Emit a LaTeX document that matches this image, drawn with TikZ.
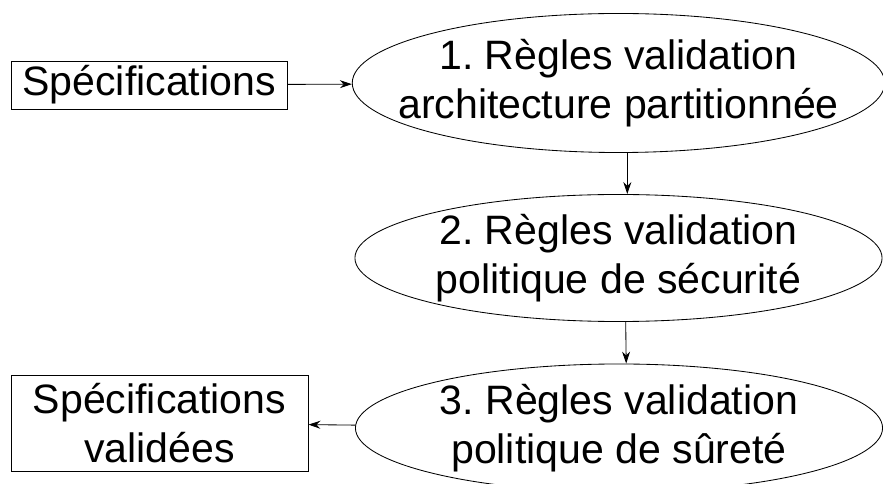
\documentclass[tikz,border=0pt]{standalone}
\usepackage{fontspec}
\setmainfont{Liberation Sans}
\frenchspacing
\usetikzlibrary{arrows.meta, positioning, shapes.geometric}

\begin{document}
\begin{tikzpicture}[x=0.025cm, y=-0.025cm,
   line width=0.6pt, -{Stealth[length=3mm, width=2mm, inset=1mm]},
   every node/.style = {font=\fontsize{29.2pt}{35pt}\selectfont, align=center, inner sep=0pt},
   doc/.style = {draw, rectangle},
   rule/.style = {draw, ellipse, inner sep=-0.8cm, minimum width=13.175cm}]
   \useasboundingbox (0,0) rectangle (883,484);

   \node[doc, minimum width=6.9cm, minimum height=1.2cm]   (spec)  at (149,85)  {Spécifications};
   \node[rule, minimum height=3.475cm] (r1) at (618.5,83)  {1. Règles validation\\architecture partitionnée};
   \node[rule, minimum height=3.175cm] (r2) at (618.5,258) {2. Règles validation\\politique de sécurité};
   \node[rule, minimum height=3.2cm]   (r3) at (619,428)   {3. Règles validation\\politique de sûreté};
   \node[doc, minimum width=7.425cm, minimum height=2.4cm] (valid) at (159.5,423) {Spécifications\\validées};

   \draw (spec) -- (r1);
   \draw ([xshift=0.22cm]r1.south) -- ([xshift=0.22cm]r2.north);
   \draw ([xshift=0.18cm]r2.south) -- ([xshift=0.18cm]r3.north);
   %
   \draw (r3) -- (valid);
\end{tikzpicture}
\end{document}
